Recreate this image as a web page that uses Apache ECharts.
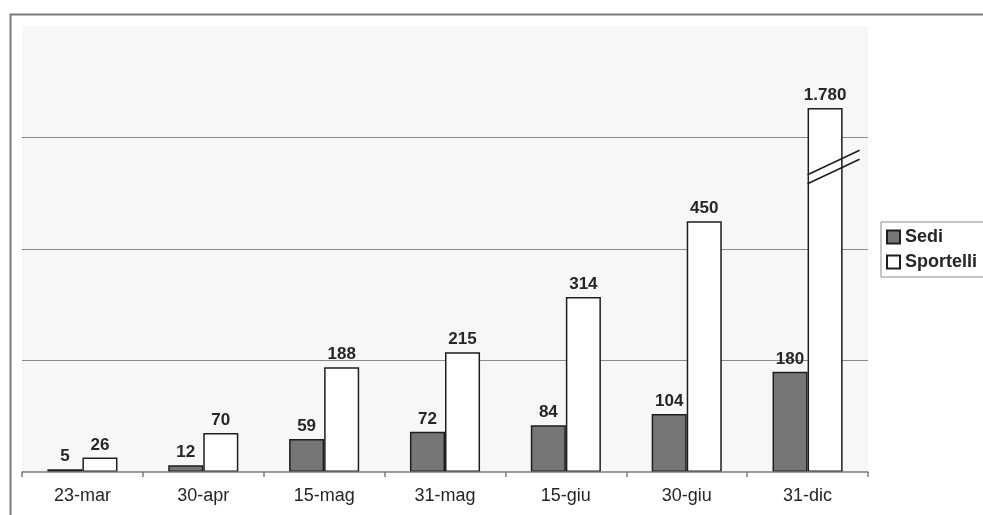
<!DOCTYPE html>
<html>
<head>
<meta charset="utf-8">
<script src="https://cdn.jsdelivr.net/npm/echarts@6/dist/echarts.min.js"></script>
<style>
  html, body { margin: 0; padding: 0; background: #fff; }
  #chart { width: 983px; height: 515px; }
</style>
</head>
<body>
<div id="chart"></div>
<script>
// Dates of the survey
const categories = ['23-mar', '30-apr', '15-mag', '31-mag', '15-giu', '30-giu', '31-dic'];
// Number of offices (Sedi) and counters (Sportelli)
const sedi = [5, 12, 59, 72, 84, 104, 180];
const sportelli = [26, 70, 188, 215, 314, 450, 1780];
// Horizontal guide lines of the value scale
const guideMax = 800;
const guideStep = 200;
// Value range left out of the scale so the tall last bar fits
const breakStart = 540;
const breakEnd = 1667;

const FONT = '"Liberation Sans", Arial, sans-serif';
const dark = '#262626';

function fmt(v) {
  return String(v).replace(/\B(?=(\d{3})+(?!\d))/g, '.');
}

const chart = echarts.init(document.getElementById('chart'), null, { renderer: 'canvas' });

const labelStyle = {
  show: true,
  position: 'top',
  distance: 4,
  color: dark,
  fontFamily: FONT,
  fontWeight: 'bold',
  fontSize: 17,
  formatter: p => fmt(p.value)
};

chart.setOption({
  animation: false,
  backgroundColor: '#ffffff',
  textStyle: { fontFamily: FONT },
  grid: {
    left: 22, right: 115, top: 26, bottom: 43,
    show: true, backgroundColor: '#f7f7f7', borderWidth: 0
  },
  legend: {
    orient: 'vertical',
    left: 881, top: 222,
    padding: [6, 30, 6, 5],
    itemWidth: 13, itemHeight: 13, itemGap: 7,
    icon: 'rect',
    borderColor: '#8c8c8c', borderWidth: 1,
    backgroundColor: '#ffffff',
    textStyle: { fontFamily: FONT, fontWeight: 'bold', fontSize: 18, color: dark },
    data: ['Sedi', 'Sportelli']
  },
  xAxis: {
    type: 'category',
    data: categories,
    axisLine: { lineStyle: { color: '#7d7d7d', width: 1.5 } },
    axisTick: { show: true, length: 5, lineStyle: { color: '#7d7d7d', width: 1.5 } },
    axisLabel: { color: dark, fontFamily: FONT, fontSize: 18, margin: 15 },
    z: 5
  },
  yAxis: [
    {
      type: 'value',
      min: 0,
      max: guideMax + (breakEnd - breakStart),
      breaks: [{ start: breakStart, end: breakEnd, gap: 0 }],
      breakArea: { show: false, expandOnClick: false },
      axisLine: { show: false },
      axisTick: { show: false },
      axisLabel: { show: false },
      splitLine: { show: false }
    },
    {
      type: 'value',
      min: 0,
      max: guideMax,
      interval: guideStep,
      axisLine: { show: false },
      axisTick: { show: false },
      axisLabel: { show: false },
      splitLine: {
        show: true,
        lineStyle: {
          color: ['rgba(0,0,0,0)', '#8a8a8a', '#8a8a8a', '#8a8a8a', 'rgba(0,0,0,0)'],
          width: 1.2
        }
      }
    }
  ],
  series: [
    {
      name: 'Sedi',
      type: 'bar',
      yAxisIndex: 0,
      data: sedi,
      barGap: '0%',
      barCategoryGap: '42%',
      itemStyle: { color: '#767676', borderColor: '#1e1e1e', borderWidth: 1.5 },
      label: labelStyle
    },
    {
      name: 'Sportelli',
      type: 'bar',
      yAxisIndex: 0,
      data: sportelli,
      barGap: '0%',
      barCategoryGap: '42%',
      itemStyle: { color: '#ffffff', borderColor: '#1e1e1e', borderWidth: 1.5 },
      label: labelStyle
    }
  ]
});

// Break marks across the bar whose value goes past the cut in the scale
function drawBreakMarks() {
  const data = chart.getModel().getSeriesByIndex(1).getData();
  const graphics = [{
    type: 'rect',
    left: 8, top: 12,
    shape: { width: 1200, height: 700 },
    style: { fill: 'none', stroke: '#7a7a7a', lineWidth: 2 },
    silent: true, z: 100
  }];
  sportelli.forEach((v, i) => {
    if (v <= breakEnd) return;
    const lay = data.getItemLayout(i);
    const yBreak = chart.convertToPixel({ seriesIndex: 1 }, [i, breakStart])[1];
    const x0 = lay.x;
    const x1 = lay.x + lay.width + 17;
    const xc = lay.x + lay.width / 2;
    const slope = 0.47;
    const half = 4.5;
    const yAt = (x, off) => yBreak + off - slope * (x - xc);
    [-half, half].forEach(off => {
      graphics.push({
        type: 'line',
        shape: { x1: x0, y1: yAt(x0, off), x2: x1, y2: yAt(x1, off) },
        style: { stroke: '#1e1e1e', lineWidth: 1.6 },
        silent: true, z: 51
      });
    });
  });
  chart.setOption({ graphic: graphics });
}
drawBreakMarks();
</script>
</body>
</html>
